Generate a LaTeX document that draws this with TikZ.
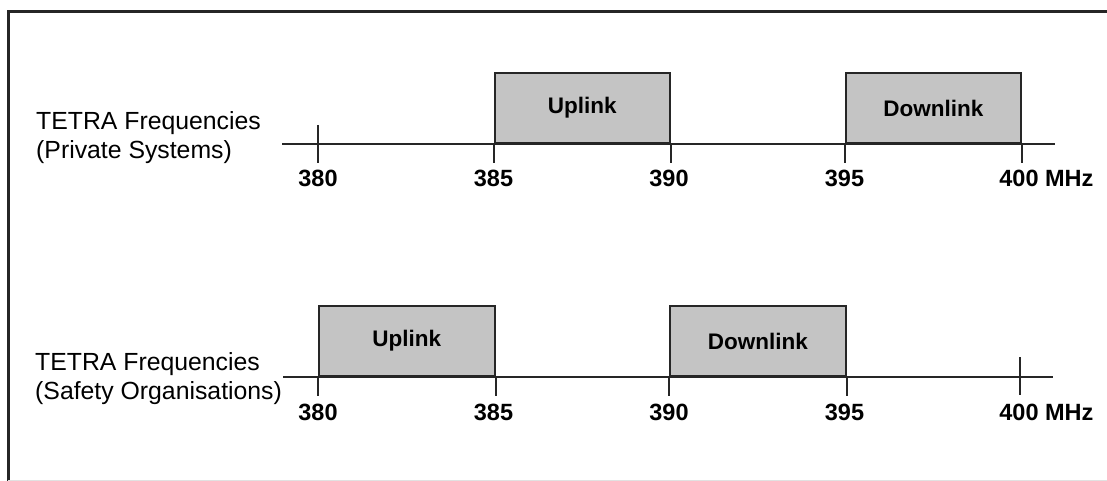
\documentclass[tikz,border=0pt]{standalone}
\usepackage{fontspec}
\setmainfont{Liberation Sans}
\definecolor{bandgray}{RGB}{196,196,196}
\definecolor{rulegray}{RGB}{225,225,225}
\begin{document}
\begin{tikzpicture}[x=1pt,y=-1pt,
  axis/.style={line width=2pt, black!85},
  tickmark/.style={line width=2pt, black!85},
  band/.style={draw=black!85, line width=2pt, fill=bandgray, anchor=south west,
    minimum height=70pt, inner sep=0pt,
    font=\fontsize{22.5}{24}\selectfont\bfseries},
  num/.style={font=\fontsize{23.5}{25}\selectfont\bfseries, inner sep=0pt},
  lab/.style={font=\fontsize{24.8}{29}\selectfont, align=left, anchor=west, inner sep=0pt}]
\useasboundingbox (0,0) rectangle (1107,481);

% frame
\draw[line width=3pt, black!85] (8,481) -- (8,12) -- (1107,12);
\draw[line width=1pt, rulegray] (8,480) -- (1107,480);

% ---- private systems band plan ----
\node[lab] (titleA) at (36,137.5) {TETRA Frequencies\\(Private Systems)};
\coordinate (a0) at (282,144);
\coordinate (a1) at (1055,144);
\draw[axis] (a0) -- (a1);
\node[band, minimum width=175.5pt] (upA) at (493.5,144) {Uplink};
\node[band, minimum width=175.5pt] (dnA) at (844.5,144) {Downlink};
\coordinate (tA380) at (318,144);
\draw[tickmark] (tA380) ++(0,-19) -- ++(0,38);
\draw[tickmark] (upA.south west) -- ++(0,19);
\draw[tickmark] (upA.south east) -- ++(0,19);
\draw[tickmark] (dnA.south west) -- ++(0,19);
\draw[tickmark] (dnA.south east) -- ++(0,19);
\node[num] (nA380) at (318,178) {380};
\node[num] (nA385) at (493.5,178) {385};
\node[num] (nA390) at (669,178) {390};
\node[num] (nA395) at (844.5,178) {395};
\node[num] (nA400) at (1019,178) {400\rlap{ MHz}};

% ---- safety organisations band plan ----
\node[lab] (titleB) at (35,379) {TETRA Frequencies\\(Safety Organisations)};
\coordinate (b0) at (283,377);
\coordinate (b1) at (1053,377);
\draw[axis] (b0) -- (b1);
\node[band, minimum width=175.5pt] (upB) at (318,377) {Uplink};
\node[band, minimum width=175.5pt] (dnB) at (669,377) {Downlink};
\coordinate (tB400) at (1020,377);
\draw[tickmark] (tB400) ++(0,-20) -- ++(0,38);
\draw[tickmark] (upB.south west) -- ++(0,19);
\draw[tickmark] (upB.south east) -- ++(0,19);
\draw[tickmark] (dnB.south west) -- ++(0,19);
\draw[tickmark] (dnB.south east) -- ++(0,19);
\node[num] (nB380) at (318,412) {380};
\node[num] (nB385) at (493.5,412) {385};
\node[num] (nB390) at (669,412) {390};
\node[num] (nB395) at (844.5,412) {395};
\node[num] (nB400) at (1019,412) {400\rlap{ MHz}};
\end{tikzpicture}
\end{document}
